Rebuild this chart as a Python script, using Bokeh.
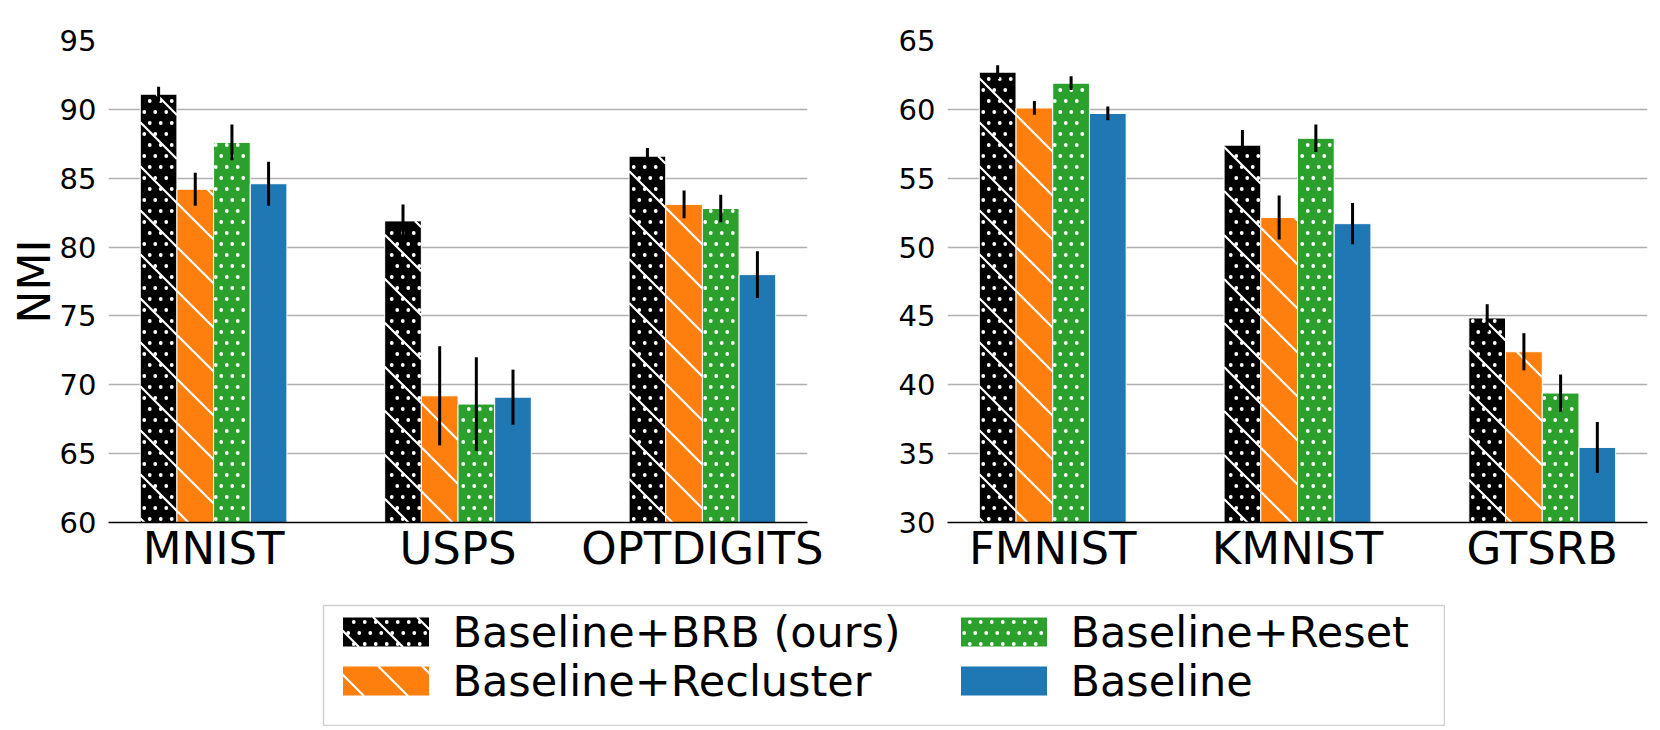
from bokeh.plotting import figure
from bokeh.layouts import column, row
from bokeh.models import FixedTicker, Range1d, Spacer
from bokeh.core.properties import value
from bokeh.embed import file_html
from bokeh.resources import INLINE
import numpy as np
import math

FONT = "DejaVu Sans"

methods = ["Baseline+BRB (ours)", "Baseline+Recluster", "Baseline+Reset", "Baseline"]
colors = ["#000000", "#ff7f0e", "#2ca02c", "#1f77b4"]
has_dots = [True, False, True, False]
has_lines = [True, True, False, False]

# left panel
left_datasets = ["MNIST", "USPS", "OPTDIGITS"]
left_brb = [91.1, 81.9, 86.6]
left_brb_err = [0.55, 1.2, 0.6]
left_recluster = [84.2, 69.2, 83.1]
left_recluster_err = [1.2, 3.6, 1.0]
left_reset = [87.6, 68.6, 82.8]
left_reset_err = [1.3, 3.4, 1.0]
left_base = [84.6, 69.1, 78.0]
left_base_err = [1.6, 2.0, 1.7]
left_yticks = [60, 65, 70, 75, 80, 85, 90, 95]

# right panel
right_datasets = ["FMNIST", "KMNIST", "GTSRB"]
right_brb = [62.7, 57.4, 44.85]
right_brb_err = [0.5, 1.1, 1.0]
right_recluster = [60.1, 52.15, 42.4]
right_recluster_err = [0.5, 1.6, 1.35]
right_reset = [61.9, 57.9, 39.4]
right_reset_err = [0.5, 1.0, 1.35]
right_base = [59.7, 51.7, 35.45]
right_base_err = [0.5, 1.5, 1.85]
right_yticks = [30, 35, 40, 45, 50, 55, 60, 65]

offsets = [-0.225, -0.075, 0.075, 0.225]
bar_w = 0.15
XMIN, XMAX = -0.43, 2.43
FRAME_H = 482
LINE_STEP = 44.0   # px between hatch lines (vertical)
DOT_STEP = 11.0    # px between hatch dots


def hatch_geometry(left, right, bottom, top, xmin, ymax, sx, sy, lines, dots):
    """Hatch marks for one bar, in data coordinates (screen-anchored pattern)."""
    U0, U1 = (left - xmin) * sx, (right - xmin) * sx
    V0, V1 = (ymax - top) * sy, (ymax - bottom) * sy
    segs = ([], [], [], [])
    pts = ([], [])
    if lines:
        kmin = math.floor((V0 - U1) / LINE_STEP)
        kmax = math.ceil((V1 - U0) / LINE_STEP)
        for k in range(kmin, kmax + 1):
            c = k * LINE_STEP + 6.0
            ua, ub = max(U0, V0 - c), min(U1, V1 - c)
            if ub - ua > 0.8:
                for lst, vv in zip(segs, (xmin + ua / sx, ymax - (ua + c) / sy,
                                          xmin + ub / sx, ymax - (ub + c) / sy)):
                    lst.append(vv)
    if dots:
        jmin = math.ceil((V0 + 1.5 - 5.5) / DOT_STEP)
        jmax = math.floor((V1 - 1.0 - 5.5) / DOT_STEP)
        for j in range(jmin, jmax + 1):
            v = 5.5 + DOT_STEP * j
            off = 2.75 + (j % 2) * DOT_STEP / 2
            imin = math.ceil((U0 + 1.8 - off) / DOT_STEP)
            imax = math.floor((U1 - 1.8 - off) / DOT_STEP)
            for i in range(imin, imax + 1):
                u = off + DOT_STEP * i
                pts[0].append(xmin + u / sx)
                pts[1].append(ymax - v / sy)
    return segs, pts


def draw_hatched(p, lefts, rights, bottoms, tops, k, xmin, ymax, sx, sy):
    p.quad(left=lefts, right=rights, bottom=bottoms, top=tops,
           fill_color=colors[k], line_color="white", line_width=1)
    allsegs = ([], [], [], [])
    allpts = ([], [])
    for l, r, b, t in zip(lefts, rights, bottoms, tops):
        segs, pts = hatch_geometry(l, r, b, t, xmin, ymax, sx, sy, has_lines[k], has_dots[k])
        for a, s in zip(allsegs, segs):
            a.extend(s)
        for a, s in zip(allpts, pts):
            a.extend(s)
    if allpts[0]:
        p.scatter(x=allpts[0], y=allpts[1], size=3.8, marker="circle",
                  fill_color="white", line_color=None)
    if allsegs[0]:
        p.segment(x0=allsegs[0], y0=allsegs[1], x1=allsegs[2], y1=allsegs[3],
                  line_color="white", line_width=2.2)


def make_panel(names, series, errs, yticks, ylabel, lb, rb, fw):
    ylo, yhi = yticks[0], yticks[-1]
    p = figure(frame_width=fw, frame_height=FRAME_H,
               x_range=Range1d(XMIN, XMAX), y_range=Range1d(ylo, yhi),
               output_backend="svg", toolbar_location=None,
               min_border_left=lb, min_border_right=rb,
               min_border_top=40, min_border_bottom=77)
    p.outline_line_color = None
    p.background_fill_color = "white"
    p.border_fill_color = "white"
    sx = fw / (XMAX - XMIN)
    sy = FRAME_H / (yhi - ylo)
    idx = np.arange(len(names))
    for k in range(4):
        x = idx + offsets[k]
        v = np.array(series[k])
        e = np.array(errs[k])
        draw_hatched(p, list(x - bar_w / 2), list(x + bar_w / 2), [ylo] * len(x), list(v),
                     k, XMIN, yhi, sx, sy)
        p.segment(x0=x, x1=x, y0=v - e, y1=v + e, line_color="black", line_width=3)
    p.xgrid.visible = False
    p.ygrid.ticker = FixedTicker(ticks=yticks)
    p.ygrid.grid_line_color = "#b0b0b0"
    p.ygrid.grid_line_width = 1.5
    p.yaxis.ticker = FixedTicker(ticks=yticks)
    p.yaxis.axis_line_color = None
    p.yaxis.major_tick_line_color = None
    p.yaxis.minor_tick_line_color = None
    p.yaxis.major_label_text_font = FONT
    p.yaxis.major_label_text_font_size = "29px"
    p.yaxis.major_label_text_color = "black"
    p.yaxis.major_label_standoff = 6
    if ylabel:
        p.yaxis.axis_label = ylabel
        p.yaxis.axis_label_text_font = FONT
        p.yaxis.axis_label_text_font_size = "44px"
        p.yaxis.axis_label_text_font_style = "normal"
        p.yaxis.axis_label_text_color = "black"
        p.yaxis.axis_label_standoff = -3
    p.xaxis.ticker = FixedTicker(ticks=list(idx))
    p.xaxis.major_label_overrides = {int(i): n for i, n in enumerate(names)}
    p.xaxis.major_label_text_font = FONT
    p.xaxis.major_label_text_font_size = "45px"
    p.xaxis.major_label_text_color = "black"
    p.xaxis.major_label_standoff = -7
    p.xaxis.axis_line_color = "black"
    p.xaxis.axis_line_width = 1.5
    p.xaxis.major_tick_line_color = None
    p.xaxis.minor_tick_line_color = None
    return p


f1 = make_panel(left_datasets,
                [left_brb, left_recluster, left_reset, left_base],
                [left_brb_err, left_recluster_err, left_reset_err, left_base_err],
                left_yticks, "NMI", 97, 20, 699)
f2 = make_panel(right_datasets,
                [right_brb, right_recluster, right_reset, right_base],
                [right_brb_err, right_recluster_err, right_reset_err, right_base_err],
                right_yticks, None, 120, 3, 700)

# legend box (its own figure, 1 data unit = 1 px)
LW, LH = 1122, 121
f3 = figure(frame_width=LW, frame_height=LH, x_range=Range1d(0, LW), y_range=Range1d(0, LH),
            output_backend="svg", toolbar_location=None,
            min_border_left=323, min_border_right=0, min_border_top=6, min_border_bottom=0)
f3.axis.visible = False
f3.grid.visible = False
f3.outline_line_color = "#d0d0d0"
f3.outline_line_width = 1.5
f3.background_fill_color = "white"

patch_left = [19, 19, 637, 637]
patch_w, patch_h = 87, 30
row_y = [94.5, 45.5, 94.5, 45.5]
text_x = [129, 129, 747, 747]
for k in range(4):
    draw_hatched(f3, [patch_left[k]], [patch_left[k] + patch_w],
                 [row_y[k] - patch_h / 2], [row_y[k] + patch_h / 2], k, 0, LH, 1.0, 1.0)
f3.text(x=text_x, y=row_y, text=methods, text_font=value(FONT), text_font_size="43px",
        text_baseline="middle", text_align="left", text_color="black")

layout = column(row(Spacer(width=5, height=10), f1, f2), f3)
open("out.html", "w").write(file_html(layout, INLINE))
